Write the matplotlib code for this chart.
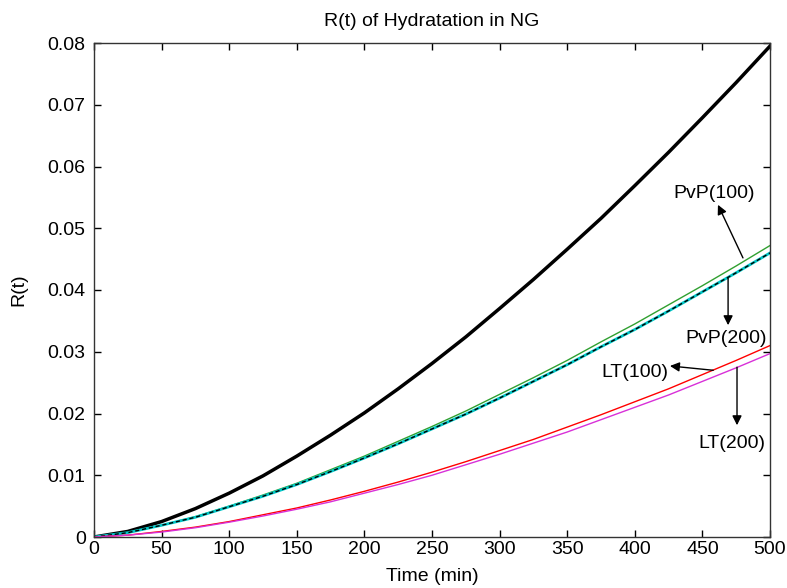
"""
plot.py - R(t) of Hydratation in NG, в стиле графика MATLAB.
"""

import matplotlib
matplotlib.use('Agg')
import matplotlib.pyplot as plt

# Время (мин)
time_min = [0, 25, 50, 75, 100, 125, 150, 175, 200, 225, 250,
            275, 300, 325, 350, 375, 400, 425, 450, 475, 500]

# Значения R(t) по кривым
r_ng = [0, 0.0009, 0.0025, 0.0046, 0.0071, 0.0099, 0.0131, 0.0165, 0.0201, 0.0240, 0.0281,
        0.0324, 0.0370, 0.0417, 0.0466, 0.0516, 0.0569, 0.0623, 0.0679, 0.0736, 0.0795]
r_pvp100 = [0, 0.0007, 0.0019, 0.0033, 0.0050, 0.0068, 0.0087, 0.0109, 0.0131, 0.0155, 0.0179,
            0.0204, 0.0231, 0.0258, 0.0286, 0.0316, 0.0345, 0.0376, 0.0407, 0.0439, 0.0472]
r_pvp200 = [0, 0.0007, 0.0019, 0.0032, 0.0049, 0.0066, 0.0085, 0.0106, 0.0128, 0.0151, 0.0175,
            0.0199, 0.0225, 0.0252, 0.0279, 0.0308, 0.0336, 0.0366, 0.0397, 0.0428, 0.0460]
r_lt100 = [0, 0.0003, 0.0009, 0.0016, 0.0025, 0.0036, 0.0047, 0.0060, 0.0074, 0.0089, 0.0105,
           0.0122, 0.0140, 0.0158, 0.0178, 0.0198, 0.0219, 0.0240, 0.0263, 0.0286, 0.0310]
r_lt200 = [0, 0.0003, 0.0008, 0.0015, 0.0024, 0.0034, 0.0045, 0.0057, 0.0071, 0.0085, 0.0100,
           0.0117, 0.0134, 0.0152, 0.0170, 0.0190, 0.0210, 0.0230, 0.0252, 0.0274, 0.0297]

# Подписи: текст, позиция текста, начало стрелки (на кривой), конец стрелки
labels = ['PvP(100)', 'PvP(200)', 'LT(100)', 'LT(200)']
label_xy = [(459, 0.0557), (467.5, 0.0321), (400, 0.0267), (472, 0.0152)]
arrow_from = [(480, 0.0452), (469, 0.0419), (458, 0.0270), (475.6, 0.0275)]
arrow_to = [(461.5, 0.0538), (469, 0.0343), (426, 0.0277), (475.6, 0.0181)]

x_ticks = list(range(0, 501, 50))
y_ticks = [0, 0.01, 0.02, 0.03, 0.04, 0.05, 0.06, 0.07, 0.08]
y_ticklabels = ['0', '0.01', '0.02', '0.03', '0.04', '0.05', '0.06', '0.07', '0.08']

plt.rcParams['font.family'] = ['Liberation Sans', 'DejaVu Sans']
FS = 14

fig = plt.figure(figsize=(7.87, 5.88), dpi=100)
ax = fig.add_axes([94 / 787, 51 / 588, 676 / 787, 494 / 588])

# Кривые
ax.plot(time_min, r_ng, color='black', linewidth=2.5)
ax.plot(time_min, r_pvp100, color='#30a030', linewidth=1.0)
ax.plot(time_min, r_pvp200, color='#00c8c8', linewidth=2.0)
ax.plot(time_min, r_pvp200, color='black', linewidth=1.0, linestyle=(0, (3, 2)))
ax.plot(time_min, r_lt100, color='red', linewidth=1.0)
ax.plot(time_min, r_lt200, color='#d830d8', linewidth=1.0)

# Стрелки с подписями
for text, txy, a0, a1 in zip(labels, label_xy, arrow_from, arrow_to):
    ax.annotate('', xy=a1, xytext=a0,
                arrowprops=dict(arrowstyle='-|>', color='black', lw=1.0,
                                mutation_scale=14, shrinkA=0, shrinkB=0))
    ax.text(txy[0], txy[1], text, ha='center', va='center', fontsize=FS)

# Оси
ax.set_xlim(0, 500)
ax.set_ylim(0, 0.08)
ax.set_xticks(x_ticks)
ax.set_yticks(y_ticks)
ax.set_yticklabels(y_ticklabels)
ax.tick_params(direction='in', top=True, right=True, labelsize=FS, length=5, width=1)
ax.tick_params(axis='x', pad=3)
ax.tick_params(axis='y', pad=6)
for spine in ax.spines.values():
    spine.set_linewidth(1.0)
    spine.set_color('#333333')

ax.set_xlabel('Time (min)', fontsize=FS)
ax.set_ylabel('R(t)', fontsize=FS)
ax.xaxis.set_label_coords(0.5, -0.063)
ax.yaxis.set_label_coords(-0.099, 0.5)
ax.set_title('R(t) of Hydratation in NG', fontsize=FS, y=1.0445, va='center', pad=0)

fig.savefig('out.png', dpi=100)
